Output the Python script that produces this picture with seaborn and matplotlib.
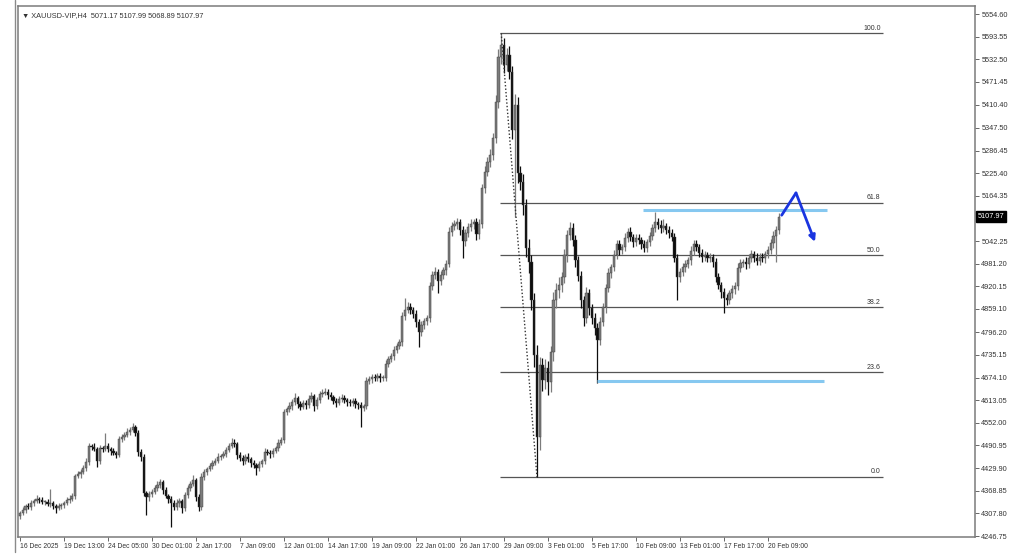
"""XAUUSD H4 candles with Fibonacci retracement, MT4-style screenshot look."""
import matplotlib
matplotlib.use("Agg")
import matplotlib.pyplot as plt
import matplotlib.transforms as mtransforms
from matplotlib.lines import Line2D
import pandas as pd
import seaborn as sns

TITLE = "\u25bc XAUUSD-VIP,H4  5071.17 5107.99 5068.89 5107.97"
FIRST_OPEN = 4300.0

# H4 closes
CLOSES = [
    4309, 4317, 4328, 4325, 4336, 4341, 4347, 4344, 4339, 4339,
    4333, 4336, 4328, 4322, 4328, 4330, 4336, 4344, 4347, 4355,
    4409, 4414, 4419, 4430, 4446, 4490, 4487, 4481, 4449, 4484,
    4481, 4490, 4481, 4476, 4471, 4465, 4508, 4514, 4519, 4527,
    4533, 4541, 4525, 4473, 4460, 4363, 4352, 4360, 4366, 4376,
    4384, 4393, 4371, 4355, 4347, 4336, 4325, 4336, 4341, 4322,
    4357, 4376, 4387, 4398, 4352, 4325, 4406, 4419, 4428, 4436,
    4444, 4449, 4460, 4463, 4468, 4479, 4490, 4498, 4495, 4465,
    4457, 4449, 4460, 4455, 4444, 4438, 4430, 4441, 4449, 4473,
    4471, 4468, 4476, 4484, 4498, 4506, 4581, 4589, 4597, 4608,
    4619, 4603, 4595, 4606, 4600, 4616, 4624, 4597, 4614, 4630,
    4633, 4635, 4627, 4622, 4611, 4606, 4616, 4619, 4614, 4608,
    4606, 4611, 4603, 4600, 4592, 4597, 4665, 4670, 4676, 4673,
    4678, 4673, 4673, 4711, 4724, 4732, 4748, 4759, 4770, 4840,
    4856, 4864, 4856, 4846, 4824, 4797, 4816, 4827, 4835, 4921,
    4951, 4959, 4935, 4951, 4964, 4980, 5067, 5083, 5088, 5094,
    5072, 5042, 5064, 5080, 5088, 5094, 5061, 5088, 5185, 5229,
    5256, 5274, 5320, 5417, 5539, 5571, 5517, 5544, 5498, 5342,
    5409, 5226, 5202, 5140, 5024, 4986, 4883, 4735, 4514, 4708,
    4668, 4700, 4662, 4743, 4883, 4910, 4924, 4945, 5005, 5059,
    5078, 5045, 4991, 4948, 4883, 4835, 4902, 4862, 4835, 4808,
    4775, 4824, 4864, 4916, 4956, 4972, 5005, 5034, 5018, 5026,
    5051, 5067, 5053, 5040, 5051, 5045, 5034, 5024, 5040, 5056,
    5078, 5094, 5086, 5078, 5083, 5072, 5064, 5053, 4997, 4945,
    4959, 4972, 4980, 4991, 5015, 5034, 5026, 5010, 4999, 5005,
    4997, 4999, 4986, 4945, 4924, 4905, 4889, 4883, 4902, 4913,
    4921, 4970, 4983, 4986, 4980, 4997, 5007, 4997, 4989, 4999,
    4997, 5007, 5018, 5037, 5056, 5072, 5107.97,
]

# wick length above / below the body, in dollars
UP_WICK = [
    6, 8, 5, 9, 7, 6, 10, 5, 8, 6,
    7, 38, 6, 5, 9, 7, 6, 8, 10, 7,
    6, 9, 8, 7, 12, 8, 6, 10, 7, 9,
    6, 35, 8, 5, 7, 6, 9, 8, 7, 10,
    8, 11, 6, 7, 9, 8, 6, 9, 7, 8,
    10, 7, 6, 8, 5, 9, 7, 10, 8, 6,
    9, 7, 8, 12, 6, 7, 10, 8, 6, 9,
    7, 8, 10, 6, 9, 7, 8, 12, 10, 6,
    8, 9, 7, 10, 6, 8, 7, 9, 6, 11,
    8, 7, 9, 6, 10, 8, 9, 7, 11, 8,
    14, 6, 9, 8, 7, 10, 12, 7, 8, 9,
    11, 10, 8, 7, 6, 9, 8, 10, 7, 6,
    8, 9, 7, 6, 8, 7, 10, 9, 8, 7,
    9, 8, 7, 10, 8, 9, 11, 8, 9, 12,
    33, 14, 10, 8, 9, 7, 10, 8, 9, 12,
    11, 13, 9, 10, 8, 12, 14, 10, 12, 11,
    9, 12, 10, 11, 13, 9, 10, 14, 12, 15,
    12, 16, 14, 18, 22, 32, 20, 18, 24, 16,
    30, 22, 18, 20, 16, 24, 18, 20, 26, 22,
    18, 24, 20, 16, 22, 18, 20, 15, 17, 14,
    16, 12, 14, 10, 13, 11, 15, 12, 10, 13,
    12, 14, 11, 10, 13, 9, 12, 10, 11, 9,
    13, 10, 12, 9, 11, 10, 8, 12, 9, 10,
    11, 27, 10, 12, 18, 9, 11, 10, 12, 9,
    11, 10, 12, 9, 14, 10, 11, 9, 12, 10,
    9, 11, 8, 10, 12, 9, 11, 10, 9, 12,
    10, 13, 11, 9, 12, 10, 11, 9, 12, 10,
    11, 9, 12, 10, 13, 11, 9,
]
DOWN_WICK = [
    7, 5, 9, 6, 8, 7, 5, 9, 6, 8,
    6, 7, 9, 12, 6, 8, 7, 5, 9, 6,
    8, 7, 10, 6, 9, 7, 8, 6, 16, 9,
    7, 6, 8, 10, 7, 9, 6, 8, 7, 6,
    9, 7, 8, 10, 12, 9, 48, 10, 8, 7,
    9, 8, 10, 7, 12, 65, 9, 8, 10, 12,
    7, 9, 8, 6, 10, 12, 8, 7, 9, 6,
    8, 7, 6, 9, 7, 8, 6, 7, 8, 10,
    9, 11, 7, 8, 10, 9, 19, 7, 8, 9,
    7, 10, 8, 6, 9, 7, 8, 9, 7, 10,
    8, 12, 9, 7, 10, 8, 9, 12, 7, 8,
    9, 7, 10, 8, 9, 11, 7, 9, 8, 10,
    9, 8, 10, 12, 51, 9, 8, 7, 10, 9,
    8, 10, 9, 7, 8, 9, 10, 8, 9, 10,
    12, 9, 11, 10, 14, 40, 12, 10, 11, 12,
    10, 12, 33, 11, 10, 12, 9, 11, 10, 12,
    14, 45, 12, 10, 11, 13, 16, 12, 10, 14,
    12, 15, 13, 14, 16, 18, 22, 16, 20, 24,
    235, 26, 22, 28, 24, 30, 26, 32, 108, 36,
    30, 26, 34, 28, 24, 20, 22, 18, 16, 20,
    14, 16, 18, 14, 20, 22, 15, 18, 16, 20,
    115, 14, 12, 15, 11, 13, 10, 12, 14, 11,
    10, 12, 11, 13, 10, 12, 14, 11, 10, 12,
    11, 10, 12, 14, 10, 11, 13, 10, 12, 62,
    14, 11, 12, 10, 13, 11, 10, 12, 14, 11,
    12, 10, 13, 14, 12, 15, 41, 13, 11, 12,
    14, 10, 12, 11, 13, 10, 12, 11, 10, 12,
    11, 13, 10, 12, 14, 70, 11,
]

DATE_LABELS = [
    "16 Dec 2025", "19 Dec 13:00", "24 Dec 05:00", "30 Dec 01:00",
    "2 Jan 17:00", "7 Jan 09:00", "12 Jan 01:00", "14 Jan 17:00",
    "19 Jan 09:00", "22 Jan 01:00", "26 Jan 17:00", "29 Jan 09:00",
    "3 Feb 01:00", "5 Feb 17:00", "10 Feb 09:00", "13 Feb 01:00",
    "17 Feb 17:00", "20 Feb 09:00",
]
BARS_PER_LABEL = 16
PRICE_TICKS = [
    5654.60, 5593.55, 5532.50, 5471.45, 5410.40, 5347.50, 5286.45,
    5225.40, 5164.35, 5042.25, 4981.20, 4920.15, 4859.10, 4796.20,
    4735.15, 4674.10, 4613.05, 4552.00, 4490.95, 4429.90, 4368.85,
    4307.80, 4246.75,
]

# Fibonacci retracement object (bar index anchors, prices)
FIB_HIGH = 5603.0
FIB_LOW = 4406.0
FIB_LEVELS = [100.0, 61.8, 50.0, 38.2, 23.6, 0.0]
FIB_FROM_BAR, FIB_TO_BAR = 174.5, 314.0
FIB_TREND_BARS = [175, 188]

# hand-drawn lines
RESIST_PRICE, RESIST_BARS = 5126.0, (226.5, 293.5)
SUPPORT_PRICE, SUPPORT_BARS = 4665.0, (210.0, 292.5)
ARROW_BARS = [277.0, 282.2, 289.1]
ARROW_PRICES = [5112.0, 5172.0, 5040.0]

BULL = "#7c7c7c"
BEAR = "#0d0d0d"
GRID_TXT = "#333333"


def build_frame() -> pd.DataFrame:
    assert len(CLOSES) == len(UP_WICK) == len(DOWN_WICK)
    df = pd.DataFrame({"close": CLOSES, "up": UP_WICK, "dn": DOWN_WICK})
    df["bar"] = range(len(df))
    df["open"] = df["close"].shift(1).fillna(FIRST_OPEN)
    top = df[["open", "close"]].max(axis=1)
    bot = df[["open", "close"]].min(axis=1)
    df["high"] = top + df["up"]
    df["low"] = bot - df["dn"]
    df["body_bot"] = bot
    df["body_h"] = (top - bot).clip(lower=2.0)
    df["color"] = [BULL if c >= o else BEAR for o, c in zip(df["open"], df["close"])]
    return df


def main() -> None:
    sns.set_theme(style="white")
    plt.rcParams["font.family"] = ["Liberation Sans", "DejaVu Sans"]

    df = build_frame()
    fig = plt.figure(figsize=(10.24, 5.59), dpi=100)
    ax = fig.add_axes([18 / 1024, 22 / 559, 957 / 1024, 531 / 559])

    ax.vlines(df["bar"], df["low"], df["high"], colors=df["color"], lw=0.9, zorder=2)
    ax.bar(df["bar"], df["body_h"], bottom=df["body_bot"], width=0.85,
           color=df["color"], edgecolor="#3a3a3a", linewidth=0.3, zorder=3)

    # fibonacci levels
    span = FIB_HIGH - FIB_LOW
    for lvl in FIB_LEVELS:
        price = FIB_LOW + span * lvl / 100
        ax.hlines(price, FIB_FROM_BAR, FIB_TO_BAR, color="#555555", lw=0.9, zorder=1)
        ax.text(FIB_TO_BAR - 1, price + 4, f"{lvl:.1f}", ha="right", va="bottom",
                fontsize=5, color=GRID_TXT)
    sns.lineplot(x=FIB_TREND_BARS, y=[FIB_HIGH, FIB_LOW], ax=ax, color="#333333",
                 lw=1.0, linestyle=(0, (1, 1.5)), zorder=4)

    # light blue support / resistance
    ax.hlines(RESIST_PRICE, *RESIST_BARS, color="#86c8f0", lw=2.2, zorder=5)
    ax.hlines(SUPPORT_PRICE, *SUPPORT_BARS, color="#86c8f0", lw=2.2, zorder=5)

    # projected path arrow
    sns.lineplot(x=ARROW_BARS[:2], y=ARROW_PRICES[:2], ax=ax, sort=False,
                 color="#1a35e0", lw=2, zorder=6)
    ax.annotate("", xy=(ARROW_BARS[2], ARROW_PRICES[2]),
                xytext=(ARROW_BARS[1], ARROW_PRICES[1]),
                arrowprops=dict(arrowstyle="-|>", color="#1a35e0", lw=2,
                                mutation_scale=9, shrinkA=0, shrinkB=0),
                zorder=6)

    ax.set_xlim(-0.73, 347.3)
    ax.set_ylim(4244.1, 5676.2)

    ax.set_xticks([i * BARS_PER_LABEL for i in range(len(DATE_LABELS))])
    ax.set_xticklabels(DATE_LABELS, ha="left", fontsize=4.9, color=GRID_TXT)
    ax.yaxis.tick_right()
    ax.set_yticks(PRICE_TICKS)
    ax.set_yticklabels([f"{v:.2f}" for v in PRICE_TICKS], fontsize=5.3, color=GRID_TXT)
    ax.tick_params(axis="both", direction="out", length=3, width=0.7,
                   color="#666666", pad=1.5)
    ax.tick_params(axis="x", bottom=True)
    ax.tick_params(axis="y", right=True, left=False)
    ax.set_xlabel("")
    ax.set_ylabel("")
    for sp in ax.spines.values():
        sp.set_color("#7a7a7a")
        sp.set_linewidth(1.1)

    # current price tag
    trans = mtransforms.blended_transform_factory(ax.transAxes, ax.transData)
    ax.text(1.003, CLOSES[-1], f"{CLOSES[-1]:.2f}", transform=trans, ha="left",
            va="center", fontsize=5.3, color="white",
            bbox=dict(boxstyle="square,pad=0.25", facecolor="black", edgecolor="black"))

    ax.text(0.004, 0.988, TITLE, transform=ax.transAxes, ha="left", va="top",
            fontsize=5.3, color=GRID_TXT)

    fig.add_artist(Line2D([15 / 1024] * 2, [1 - 552 / 559, 1], color="#8a8a8a",
                          lw=1, transform=fig.transFigure))

    fig.savefig("out.png", dpi=100)
    plt.close(fig)


if __name__ == "__main__":
    main()
